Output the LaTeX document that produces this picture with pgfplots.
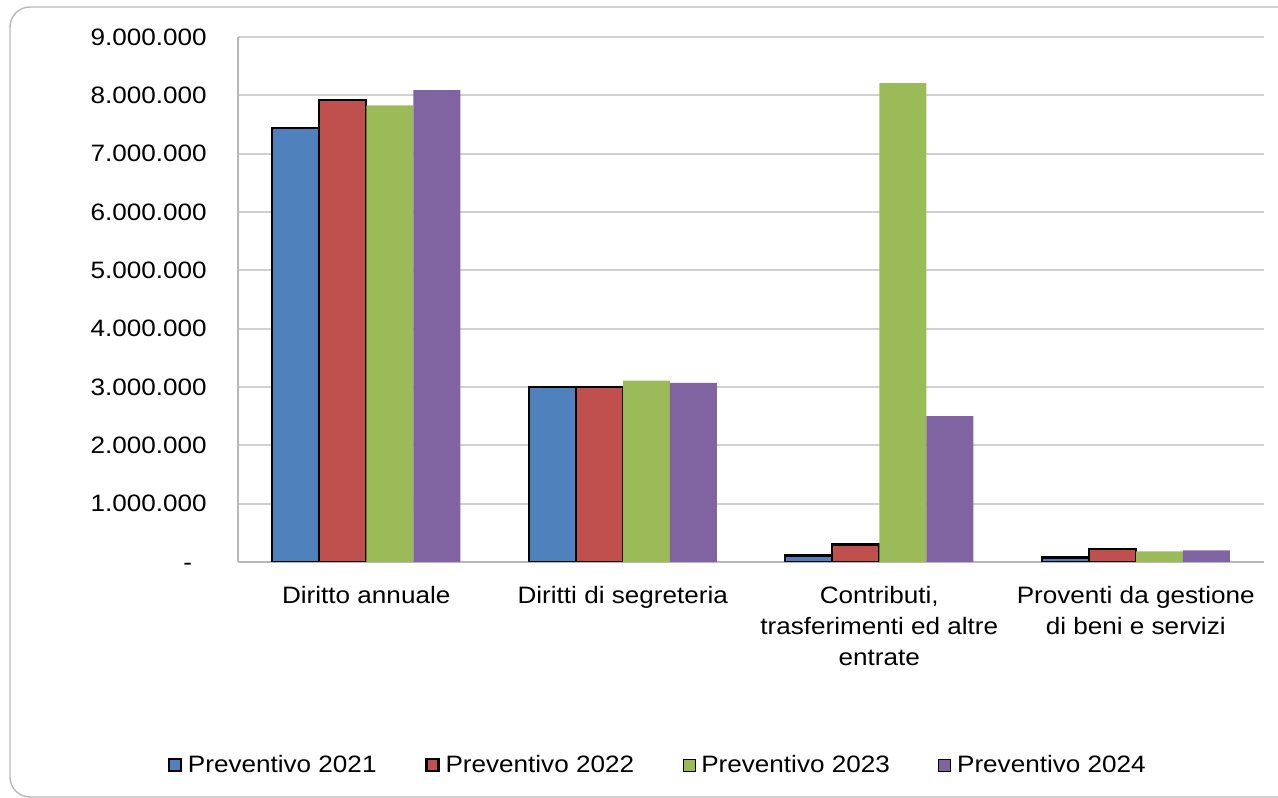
\documentclass[border=0pt]{standalone}
\usepackage{fontspec}
\setmainfont{Liberation Sans}[FakeStretch=1.1]
\usepackage{pgfplots}
\pgfplotsset{compat=1.18}
\definecolor{c1}{HTML}{4F81BD}
\definecolor{c2}{HTML}{C0504D}
\definecolor{c3}{HTML}{9BBB59}
\definecolor{c4}{HTML}{8064A2}
\definecolor{gridc}{HTML}{D0D0D0}
\definecolor{axc}{HTML}{B8B8B8}
\begin{document}
\begin{tikzpicture}
\useasboundingbox (0cm,0cm) rectangle (25.56cm,15.96cm);
\draw[color=axc, line width=0.8pt, rounded corners=0.4cm] (0.2cm,0.02cm) rectangle (26.4cm,15.82cm);
\begin{axis}[
  at={(4.76cm,4.72cm)}, anchor=south west,
  scale only axis, width=20.52cm, height=10.5cm,
  ybar=0pt, bar width=0.94cm,
  legend image code/.code={\draw[#1] (0cm,-0.12cm) rectangle (0.24cm,0.12cm);},
  xmin=-0.5, xmax=3.5, ymin=0, ymax=9000000,
  enlargelimits=false,
  axis x line*=bottom, axis y line*=left,
  axis line style={color=axc, line width=0.8pt},
  ymajorgrids, grid style={color=gridc, line width=1.1pt},
  major tick length=0pt,
  xtick={0,1,2,3},
  xticklabels={Diritto annuale, Diritti di segreteria, {Contributi,\\trasferimenti ed altre\\entrate}, {Proventi da gestione\\di beni e servizi}},
  xticklabel style={align=center, anchor=north, inner sep=0pt, yshift=-0.48cm, font={\fontsize{13.5}{17.6}\selectfont}},
  ytick={0,1000000,2000000,3000000,4000000,5000000,6000000,7000000,8000000,9000000},
  yticklabels={-\phantom{0},1.000.000,2.000.000,3.000.000,4.000.000,5.000.000,6.000.000,7.000.000,8.000.000,9.000.000},
  scaled y ticks=false,
  yticklabel style={anchor=east, inner sep=0pt, xshift=-0.62cm, font={\fontsize{13.5}{16}\selectfont}},
  legend columns=4,
  legend style={at={(0.408,-0.387)}, anchor=center, draw=none, fill=none,
    font={\fontsize{13.5}{16}\selectfont},
    nodes={inner sep=0pt},
    /tikz/every odd column/.append style={column sep=0.12cm},
    /tikz/every even column/.append style={column sep=0.97cm}},
]
\addplot[fill=c1, draw=black, line width=1.4pt] coordinates {(0,7440000) (1,3000000) (2,110000) (3,80000)};
\addplot[fill=c2, draw=black, line width=1.4pt] coordinates {(0,7920000) (1,3000000) (2,300000) (3,220000)};
\addplot[fill=c3, draw=none] coordinates {(0,7830000) (1,3110000) (2,8210000) (3,180000)};
\addplot[fill=c4, draw=none] coordinates {(0,8090000) (1,3070000) (2,2500000) (3,200000)};
\legend{Preventivo 2021, Preventivo 2022, Preventivo 2023, Preventivo 2024}
\end{axis}
\end{tikzpicture}
\end{document}
